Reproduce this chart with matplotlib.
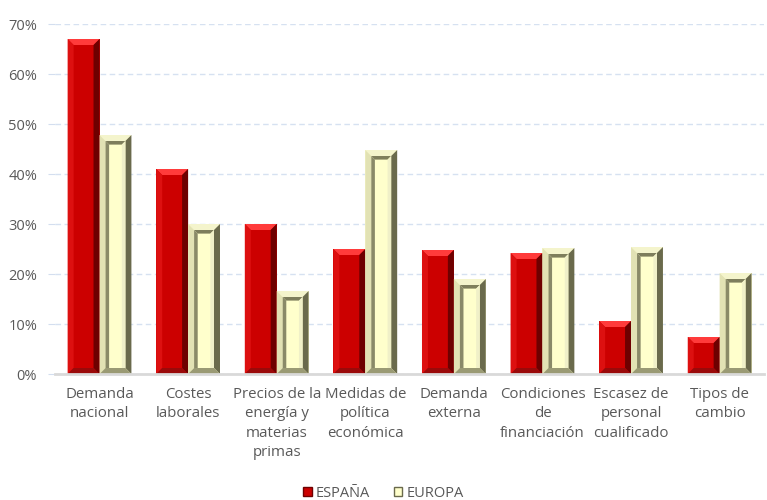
import matplotlib.pyplot as plt
from matplotlib.patches import Polygon, Patch
from matplotlib.ticker import PercentFormatter

# data
categories = ["Demanda\nnacional", "Costes\nlaborales", "Precios de la\nenergía y\nmaterias\nprimas",
              "Medidas de\npolítica\neconómica", "Demanda\nexterna", "Condiciones\nde\nfinanciación",
              "Escasez de\npersonal\ncualificado", "Tipos de\ncambio"]
espana = [0.67, 0.41, 0.30, 0.25, 0.248, 0.242, 0.106, 0.074]
europa = [0.478, 0.30, 0.166, 0.448, 0.19, 0.252, 0.254, 0.202]
series_names = ["ESPAÑA", "EUROPA"]

plt.rcParams['font.family'] = ['Open Sans', 'DejaVu Sans']
txt = "#595959"

fig = plt.figure(figsize=(7.67, 5), dpi=100)
ax = fig.add_axes([0.072, 0.252, 0.924, 0.70])
ax.set_xlim(-0.5, 7.5)
ax.set_ylim(0, 0.70)

# bevel colours: face, top, left, right, bottom
red_cols = ("#CC0000", "#FF3B3B", "#DD1010", "#6E0000", "#9A0A0A")
yel_cols = ("#FFFFCC", "#F4F4CC", "#E2E2B4", "#6A6A4C", "#9A9A74")

def bevel_bar(x0, w, h, cols, inset=False):
    # bevel size in data units, ~6 px each way
    px_x = (ax.get_xlim()[1] - ax.get_xlim()[0]) / (ax.bbox.width)
    px_y = (ax.get_ylim()[1] - ax.get_ylim()[0]) / (ax.bbox.height)
    bx, by = 6 * px_x, 6 * px_y
    by = min(by, h / 2)
    x1, y1 = x0 + w, h
    face, top, left, right, bottom = cols
    ax.add_patch(Polygon([(x0, 0), (x1, 0), (x1, y1), (x0, y1)], closed=True, fc=face, ec="none", zorder=2))
    ax.add_patch(Polygon([(x0, y1), (x1, y1), (x1 - bx, y1 - by), (x0 + bx, y1 - by)], fc=top, ec="none", zorder=3))
    ax.add_patch(Polygon([(x0, 0), (x0, y1), (x0 + bx, y1 - by), (x0 + bx, by)], fc=left, ec="none", zorder=3))
    ax.add_patch(Polygon([(x1, 0), (x1, y1), (x1 - bx, y1 - by), (x1 - bx, by)], fc=right, ec="none", zorder=3))
    ax.add_patch(Polygon([(x0, 0), (x1, 0), (x1 - bx, by), (x0 + bx, by)], fc=bottom, ec="none", zorder=3))
    if inset:
        # groove inside the pale bars
        ix0, ix1, iy1 = x0 + bx, x1 - bx, y1 - by
        g = 0.6
        ax.add_patch(Polygon([(ix0, iy1), (ix1, iy1), (ix1 - bx * g, iy1 - by * g), (ix0 + bx * g, iy1 - by * g)],
                             fc="#7E7E5C", ec="none", zorder=4))
        ax.add_patch(Polygon([(ix0, by), (ix0, iy1), (ix0 + bx * g, iy1 - by * g), (ix0 + bx * g, by)],
                             fc="#8A8A68", ec="none", zorder=4))
        ax.add_patch(Polygon([(ix1, by), (ix1, iy1), (ix1 - bx * g, iy1 - by * g), (ix1 - bx * g, by)],
                             fc="#F0F0C8", ec="none", zorder=4))

w = 0.36
for i in range(len(categories)):
    bevel_bar(i - w, w, espana[i], red_cols)
    bevel_bar(i, w, europa[i], yel_cols, inset=True)

ax.set_yticks([i / 10 for i in range(8)])
ax.yaxis.set_major_formatter(PercentFormatter(1.0, decimals=0))
ax.set_xticks(range(len(categories)))
ax.set_xticklabels(categories, fontsize=10.8, color=txt, linespacing=1.42, va="top")
ax.tick_params(axis="x", length=0, pad=9)
ax.tick_params(axis="y", length=5, color="#d3deef", labelsize=10.5, labelcolor=txt, pad=8)
ax.grid(axis="y", color="#d6e1f1", linestyle=(0, (4, 2.5)), linewidth=1)
ax.set_axisbelow(True)
for s in ["top", "right", "left"]:
    ax.spines[s].set_visible(False)
ax.spines["bottom"].set_color("#d9d9d9")
ax.spines["bottom"].set_linewidth(2)
ax.spines["bottom"].set_zorder(5)

handles = [Patch(fc="#CC0000", ec="#6E0000"), Patch(fc="#FFFFCC", ec="#6A6A4C")]
fig.legend(handles, series_names, loc="lower center", bbox_to_anchor=(0.5, -0.028), ncol=2,
           frameon=False, fontsize=10.5, labelcolor=txt, handlelength=0.6, handleheight=0.6,
           handletextpad=0.3, columnspacing=1.6)

fig.savefig("out.png", dpi=100)
